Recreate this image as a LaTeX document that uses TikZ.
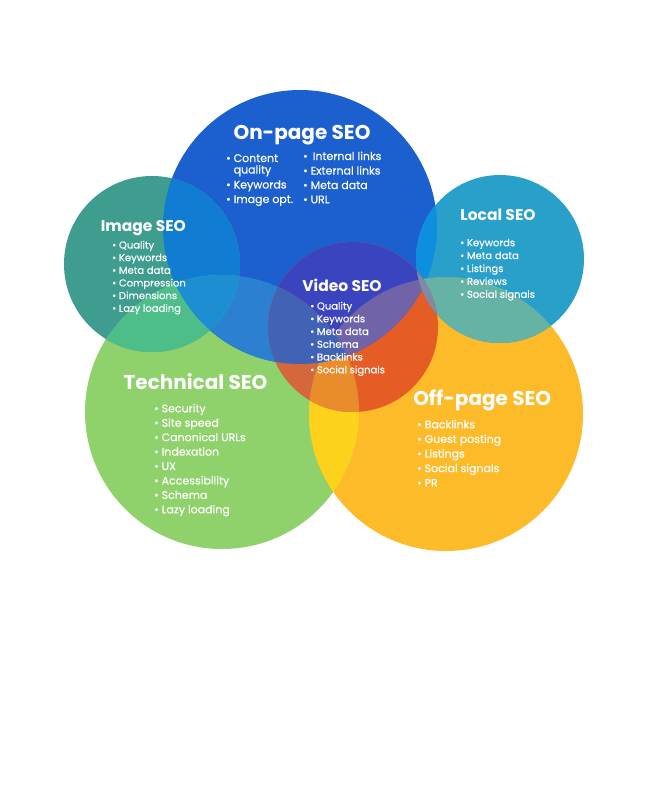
\documentclass[tikz,border=0pt]{standalone}
\usepackage{fontspec}
\setmainfont{Poppins}
\newfontfamily\itemfont{Poppins}[FakeBold=0.35]
\definecolor{cTech}{HTML}{8FD16A}
\definecolor{cOff}{HTML}{FDBB2A}
\definecolor{cTechOff}{HTML}{FCD21C}
\definecolor{cOn}{HTML}{1C5FCF}
\definecolor{cOnTech}{HTML}{2B80D2}
\definecolor{cImg}{HTML}{3E9D8E}
\definecolor{cImgOn}{HTML}{117DD2}
\definecolor{cImgTech}{HTML}{4DBE8A}
\definecolor{cImgOnTech}{HTML}{1E8ED3}
\definecolor{cLoc}{HTML}{28A0C9}
\definecolor{cLocOn}{HTML}{0D8EDF}
\definecolor{cLocOff}{HTML}{64B3A4}
\definecolor{cVid}{HTML}{E55C25}
\definecolor{cVidOn}{HTML}{3B44BF}
\definecolor{cVidTech}{HTML}{D5673D}
\definecolor{cVidTechOff}{HTML}{E98C2B}
\definecolor{cVidOnOff}{HTML}{7063A8}
\definecolor{cVidOnTech}{HTML}{4163B5}
\definecolor{cVidLoc}{HTML}{7E8AA6}
\def\Tech{(222,412) circle[radius=137pt]}
\def\Off{(446,414) circle[radius=137pt]}
\def\On{(300,227) circle[radius=137pt]}
\def\Img{(152,264) circle[radius=88pt]}
\def\Loc{(500,259) circle[radius=84pt]}
\def\Vid{(353,327) circle[radius=85pt]}
\begin{document}
\begin{tikzpicture}[x=1pt,y=-1pt,
  item/.style={anchor=base west,inner sep=0pt,text=white,font=\itemfont\fontsize{11}{13}\selectfont},
  smallitem/.style={anchor=base west,inner sep=0pt,text=white,font=\itemfont\fontsize{10}{12}\selectfont},
  bigtitle/.style={anchor=base,inner sep=0pt,text=white,font=\bfseries\fontsize{20}{24}\selectfont},
  smalltitle/.style={anchor=base,inner sep=0pt,text=white,font=\bfseries\fontsize{15.5}{18}\selectfont}]
\useasboundingbox (0,0) rectangle (645,800);
\fill[white] (0,0) rectangle (645,800);
% base circles and overlaps
\fill[cTech] \Tech;
\fill[cOff] \Off;
\begin{scope}\clip \Tech; \fill[cTechOff] \Off; \end{scope}
\fill[cOn] \On;
\begin{scope}\clip \On; \fill[cOnTech] \Tech; \end{scope}
\fill[cImg] \Img;
\begin{scope}\clip \Img; \fill[cImgOn] \On; \end{scope}
\begin{scope}\clip \Img; \fill[cImgTech] \Tech; \end{scope}
\begin{scope}\clip \Img; \clip \On; \fill[cImgOnTech] \Tech; \end{scope}
\fill[cLoc] \Loc;
\begin{scope}\clip \Loc; \fill[cLocOn] \On; \end{scope}
\begin{scope}\clip \Loc; \fill[cLocOff] \Off; \end{scope}
\fill[cVid] \Vid;
\begin{scope}\clip \Vid; \fill[cVidOn] \On; \end{scope}
\begin{scope}\clip \Vid; \fill[cVidTech] \Tech; \end{scope}
\begin{scope}\clip \Vid; \clip \Tech; \fill[cVidTechOff] \Off; \end{scope}
\begin{scope}\clip \Vid; \clip \On; \fill[cVidOnOff] \Off; \end{scope}
\begin{scope}\clip \Vid; \clip \On; \fill[cVidOnTech] \Tech; \end{scope}
\begin{scope}\clip \Vid; \fill[cVidLoc] \Loc; \end{scope}
\fill[cOff!80!yellow, opacity=0.12] (442,522) ellipse[x radius=56pt, y radius=26pt];
% titles
\node[bigtitle] (tOn) at (302,139.3) {On-page SEO};
\node[smalltitle] (tImg) at (143.4,231.7) {Image SEO};
\node[smalltitle] (tVid) at (342,291.7) {Video SEO};
\node[smalltitle] (tLoc) at (498,220.7) {Local SEO};
\node[bigtitle] (tTech) at (195.5,389.3) {Technical SEO};
\node[bigtitle] (tOff) at (482.2,405.7) {Off-page SEO};
% on-page lists
\node[item] (on1) at (226,162) {• Content};
\node[item] (on2) at (226,173.5) {\hphantom{• }quality};
\node[item] (on3) at (226,188.5) {• Keywords};
\node[item] (on4) at (226,203) {• Image opt.};
\node[item] (on5) at (303,160) {•\hspace{5pt}Internal links};
\node[item] (on6) at (303,174.5) {• External links};
\node[item] (on7) at (303,189) {• Meta data};
\node[item] (on8) at (303,203.3) {• URL};
% image
\foreach \t [count=\i] in {Quality,Keywords,Meta data,Compression,Dimensions,Lazy loading}
  \node[smallitem] (img\i) at (112,{248.5+(\i-1)*12.65}) {• \t};
% video
\foreach \t [count=\i] in {Quality,Keywords,Meta data,Schema,Backlinks,Social signals}
  \node[smallitem] (vid\i) at (310,{309.5+(\i-1)*12.75}) {• \t};
% local
\foreach \t [count=\i] in {Keywords,Meta data,Listings,Reviews,Social signals}
  \node[smallitem] (loc\i) at (460,{246.2+(\i-1)*12.9}) {• \t};
% technical
\foreach \t [count=\i] in {Security,Site speed,Canonical URLs,Indexation,UX,Accessibility,Schema,Lazy loading}
  \node[item] (tech\i) at (154,{412.3+(\i-1)*14.43}) {• \t};
% off-page
\foreach \t [count=\i] in {Backlinks,Guest posting,Listings,Social signals,PR}
  \node[item] (off\i) at (417,{428.3+(\i-1)*14.6}) {• \t};
\end{tikzpicture}
\end{document}
